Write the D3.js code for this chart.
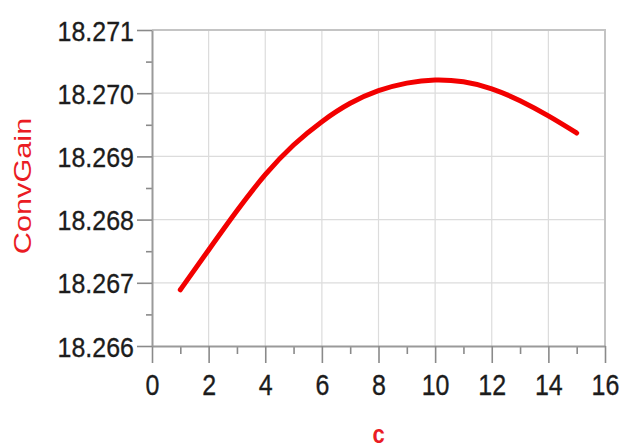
<!DOCTYPE html>
<meta charset="utf-8">
<body style="margin:0;background:#fff">
<style>
  text { font-family: "Liberation Sans", Arial, sans-serif; }
  .grid line { stroke: #dcdcdc; stroke-width: 1.2px; }
  .axis path { stroke: #9a9a9a; stroke-width: 2px; }
  .axis line { stroke: #8a8a8a; stroke-width: 1.6px; }
  .axis text { fill: #1c1c1c; font-size: 25px; stroke: #1c1c1c; stroke-width: 0.3px; }
</style>
<script src="https://cdn.jsdelivr.net/npm/d3@7"></script>
<script>

// values
var cValues = [1, 2, 3, 4, 5, 6, 7, 8, 9, 10, 11, 12, 13, 14, 15];
var convGain = [18.26689, 18.26752, 18.26814, 18.26871, 18.26918, 18.26955, 18.26984,
                18.27004, 18.27016, 18.27021, 18.27018, 18.27007, 18.26988, 18.26964, 18.26937];
var xTicks = [0, 2, 4, 6, 8, 10, 12, 14, 16];
var xMinor = [1, 3, 5, 7, 9, 11, 13, 15];
var yTicks = [18.266, 18.267, 18.268, 18.269, 18.270, 18.271];
var yMinor = [18.2665, 18.2675, 18.2685, 18.2695, 18.2705];

var W = 620, H = 447;
var m = {left: 152, top: 30, right: 15, bottom: 101};
var w = W - m.left - m.right, h = H - m.top - m.bottom;

var svg = d3.select("body").append("svg")
    .attr("width", W)
    .attr("height", H);

var g = svg.append("g").attr("transform", "translate(" + m.left + "," + m.top + ")");

var x = d3.scaleLinear().domain([0, 16]).range([0, w]);
var y = d3.scaleLinear().domain([18.266, 18.271]).range([h, 0]);

// grid
g.append("g").attr("class", "grid")
  .selectAll("line").data(xTicks.slice(1)).enter().append("line")
    .attr("x1", d => x(d)).attr("x2", d => x(d))
    .attr("y1", 0).attr("y2", h);
g.append("g").attr("class", "grid")
  .selectAll("line").data(yTicks.slice(1)).enter().append("line")
    .attr("y1", d => y(d)).attr("y2", d => y(d))
    .attr("x1", 0).attr("x2", w);
// frame top / right
g.append("path")
  .attr("d", "M0,0H" + w + "V" + h)
  .style("fill", "none").style("stroke", "#c4c4c4").style("stroke-width", 2);

// minor ticks
g.append("g").attr("class", "axis")
  .attr("transform", "translate(0," + h + ")")
  .call(d3.axisBottom(x).tickValues(xMinor).tickSize(8).tickFormat(""))
  .select(".domain").remove();
g.append("g").attr("class", "axis")
  .call(d3.axisLeft(y).tickValues(yMinor).tickSize(6).tickFormat(""))
  .select(".domain").remove();

// major axes
var xa = g.append("g").attr("class", "axis")
  .attr("transform", "translate(0," + h + ")")
  .call(d3.axisBottom(x).tickValues(xTicks).tickSize(17).tickSizeOuter(0));
xa.selectAll("text")
  .attr("y", 0).attr("dy", 0)
  .attr("transform", "translate(0,49) scale(1,1.15)");

var ya = g.append("g").attr("class", "axis")
  .call(d3.axisLeft(y).tickValues(yTicks).tickSize(15).tickSizeOuter(0).tickFormat(d3.format(".3f")));
ya.selectAll("text")
  .attr("x", 0).attr("dy", "0.36em")
  .attr("transform", "translate(-18,0) scale(1,1.12)");

// curve
g.append("path")
  .datum(cValues.map((c, i) => [c, convGain[i]]))
  .attr("d", d3.line().x(d => x(d[0])).y(d => y(d[1])).curve(d3.curveNatural))
  .style("fill", "none")
  .style("stroke", "#f20000")
  .style("stroke-width", 5)
  .style("stroke-linecap", "round");

// axis titles
svg.append("text")
  .attr("transform", "translate(31,186) scale(1,1.28) rotate(-90)")
  .attr("text-anchor", "middle")
  .style("fill", "#ea1c24")
  .style("font-size", "24px")
  .text("ConvGain");

svg.append("text")
  .attr("transform", "translate(" + (m.left + w / 2) + ",443) scale(1,1.2)")
  .attr("text-anchor", "middle")
  .style("fill", "#ea1c24")
  .style("font-size", "22px")
  .style("font-weight", "bold")
  .text("c");

</script>
